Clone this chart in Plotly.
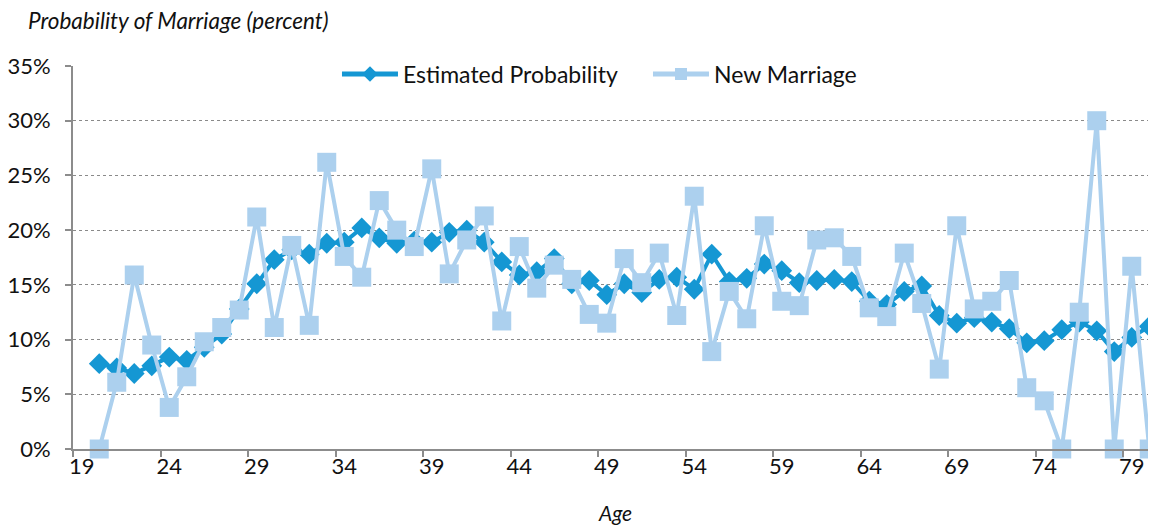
import plotly.graph_objects as go

ages = list(range(20, 81))

estimated_probability = [
    7.8, 7.4, 6.9, 7.6, 8.4, 8.1, 9.3, 10.5, 12.8, 15.1,
    17.3, 18.2, 17.8, 18.8, 18.9, 20.2, 19.3, 18.8, 19.0, 18.9,
    19.8, 20.0, 18.9, 17.1, 15.9, 16.2, 17.4, 15.1, 15.4, 14.1,
    15.1, 14.3, 15.5, 15.7, 14.6, 17.8, 15.3, 15.6, 16.9, 16.3,
    15.2, 15.4, 15.5, 15.3, 13.5, 13.2, 14.4, 14.9, 12.2, 11.5,
    12.0, 11.6, 11.0, 9.7, 9.9, 10.9, 11.6, 10.8, 8.9, 10.2,
    11.2,
]

new_marriage = [
    0.0, 6.1, 15.9, 9.5, 3.8, 6.6, 9.8, 11.1, 12.7, 21.2,
    11.1, 18.6, 11.3, 26.2, 17.6, 15.7, 22.7, 20.0, 18.5, 25.6,
    16.0, 19.1, 21.3, 11.7, 18.5, 14.7, 16.8, 15.5, 12.3, 11.5,
    17.4, 15.2, 17.9, 12.2, 23.1, 8.9, 14.4, 11.9, 20.4, 13.5,
    13.1, 19.1, 19.3, 17.6, 12.9, 12.1, 17.9, 13.3, 7.3, 20.4,
    12.8, 13.5, 15.4, 5.6, 4.4, 0.0, 12.5, 30.0, 0.0, 16.7,
    0.0,
]

x_tick_labels = [19, 24, 29, 34, 39, 44, 49, 54, 59, 64, 69, 74, 79]
y_tick_values = [0, 5, 10, 15, 20, 25, 30, 35]

DARK = "#1597d3"
LIGHT = "#acd0ee"
AXIS = "#8c8c8c"
TEXT = "#111111"
FONT = "Lato, 'Open Sans', sans-serif"

fig = go.Figure()
fig.add_trace(go.Scatter(
    x=ages, y=estimated_probability, name="Estimated Probability",
    mode="lines+markers", cliponaxis=False,
    line=dict(color=DARK, width=4),
    marker=dict(symbol="diamond", size=16, color=DARK),
))
fig.add_trace(go.Scatter(
    x=ages, y=new_marriage, name="New Marriage",
    mode="lines+markers", cliponaxis=False,
    line=dict(color=LIGHT, width=4),
    marker=dict(symbol="square", size=19, color=LIGHT),
))

fig.update_layout(
    width=1156, height=527,
    margin=dict(l=65, r=6, t=58, b=86, autoexpand=False),
    plot_bgcolor="white", paper_bgcolor="white",
    font=dict(family=FONT, size=22, color=TEXT),
    title=dict(
        text="<i>Probability of Marriage (percent)</i>",
        x=20 / 1156, xanchor="left", xref="container",
        y=1 - 13 / 527, yanchor="middle", yref="container",
        font=dict(family=FONT, size=22.5, color=TEXT),
    ),
    legend=dict(
        orientation="h", x=0.2433, xanchor="left", y=1.035, yanchor="top",
        bgcolor="rgba(0,0,0,0)", itemwidth=56,
        entrywidth=240, entrywidthmode="pixels",
        font=dict(family=FONT, size=23, color=TEXT),
        itemsizing="constant",
    ),
    showlegend=True,
)

fig.update_xaxes(
    range=[18.5, 80.5], automargin=False,
    tickmode="array", tickvals=x_tick_labels,
    ticktext=[str(v) for v in x_tick_labels],
    ticks="", showgrid=False, zeroline=False,
    showline=True, linecolor=AXIS, linewidth=2,
    minor=dict(tick0=18.5, dtick=5, ticks="outside", ticklen=6,
               tickcolor=AXIS, tickwidth=1.5, showgrid=False),
    ticklabelstandoff=-3,
    title=dict(text="<i>Age</i>", standoff=28,
               font=dict(family=FONT, size=21, color=TEXT)),
    tickfont=dict(family=FONT, size=22, color=TEXT),
)

fig.update_yaxes(
    range=[0, 35], automargin=False,
    tickmode="array", tickvals=y_tick_values,
    ticktext=[f"{v}%" for v in y_tick_values],
    ticks="outside", ticklen=6, tickcolor=AXIS, tickwidth=1.5,
    ticklabelstandoff=10,
    showgrid=True, gridcolor="#8a8a8a", griddash="dot", gridwidth=1,
    zeroline=False,
    showline=True, linecolor=AXIS, linewidth=2,
    tickfont=dict(family=FONT, size=22, color=TEXT),
)

fig.write_html("out.html")
